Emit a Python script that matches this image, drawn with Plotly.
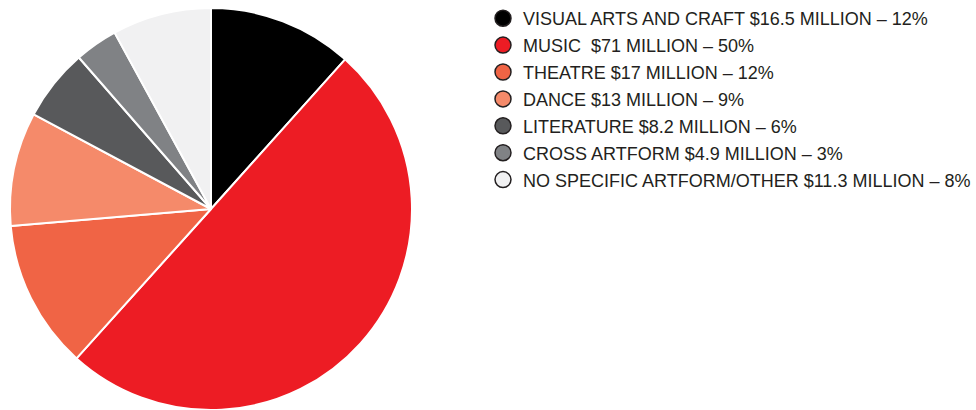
import plotly.graph_objects as go

categories = [
    "VISUAL ARTS AND CRAFT $16.5 MILLION – 12%",
    "MUSIC\u00a0\u00a0$71 MILLION – 50%",
    "THEATRE $17 MILLION – 12%",
    "DANCE $13 MILLION – 9%",
    "LITERATURE $8.2 MILLION – 6%",
    "CROSS ARTFORM $4.9 MILLION – 3%",
    "NO SPECIFIC ARTFORM/OTHER $11.3 MILLION – 8%",
]
values = [16.5, 71, 17, 13, 8.2, 4.9, 11.3]
colors = ["#000000", "#ED1C24", "#F06445", "#F58A6A", "#58595B", "#808285", "#F1F1F2"]

W, H = 976, 410

fig = go.Figure()
fig.add_trace(go.Pie(
    labels=categories,
    values=values,
    sort=False,
    direction="clockwise",
    rotation=0,
    marker=dict(colors=colors, line=dict(color="#FFFFFF", width=2)),
    textinfo="none",
    hoverinfo="label",
    showlegend=False,
    domain=dict(x=[10 / W, 412 / W], y=[0, 402 / H]),
))

for i, (lab, col) in enumerate(zip(categories, colors)):
    fig.add_trace(go.Scatter(
        x=[None], y=[None], mode="markers", name=lab,
        legendgroup=f"g{i}",
        marker=dict(symbol="circle", size=16, color=col,
                    line=dict(color="#231F20", width=1.5)),
        showlegend=True,
    ))

fig.update_layout(
    width=W, height=H,
    margin=dict(l=0, r=0, t=0, b=0, pad=0, autoexpand=False),
    paper_bgcolor="#FFFFFF",
    plot_bgcolor="#FFFFFF",
    xaxis=dict(visible=False),
    yaxis=dict(visible=False),
    font=dict(family="Liberation Sans, Arial, sans-serif", color="#231F20", size=18),
    legend=dict(
        x=483 / W, y=1, xanchor="left", yanchor="top",
        font=dict(size=18, color="#231F20"),
        tracegroupgap=0.5,
        bgcolor="rgba(0,0,0,0)",
        itemclick=False, itemdoubleclick=False,
    ),
)

fig.write_html(
    "out.html",
    config={"displayModeBar": False},
    post_script="document.body.style.margin='0';document.body.style.overflow='hidden';",
)
